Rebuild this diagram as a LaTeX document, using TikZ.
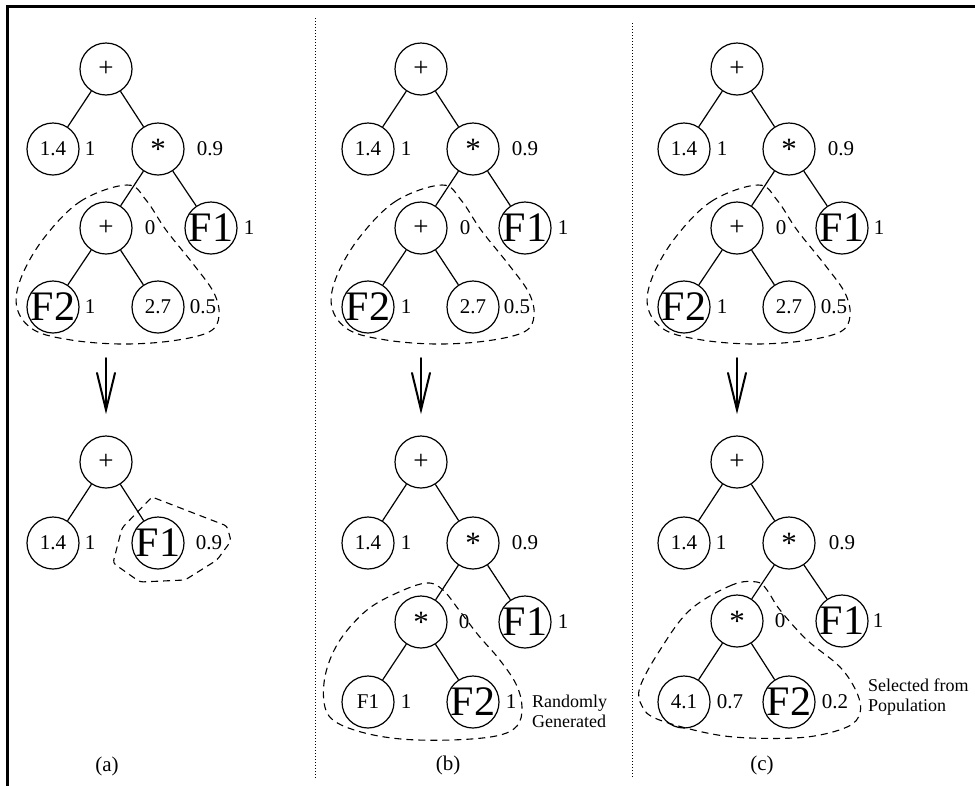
\documentclass[tikz,border=0pt]{standalone}
\usepackage{fontspec}
\setmainfont{Liberation Serif}
\newcommand{\mkzero}[1]{\makebox[0pt]{#1}}
\newcommand{\astk}{\mkzero{\fontsize{31}{33}\selectfont\raisebox{-0.17em}{*}}}
\newcommand{\plusk}{\mkzero{\fontsize{27}{30}\selectfont +}}
\begin{document}
\begin{tikzpicture}[x=1pt,y=-1pt,
  tn/.style={circle, draw, line width=1.2pt, minimum size=52pt, inner sep=0pt, font=\fontsize{21}{25}\selectfont},
  tnbig/.style={tn, font=\fontsize{42}{46}\selectfont},
  lab/.style={font=\fontsize{21}{25}\selectfont, inner sep=0pt},
  captxt/.style={font=\fontsize{21}{25}\selectfont, inner sep=0pt},
  edge/.style={line width=1.2pt},
  blob/.style={dash pattern=on 7pt off 5pt, line width=1.1pt},
  sepline/.style={dash pattern=on 1pt off 2pt, line width=1pt},
  note/.style={font=\fontsize{18}{20}\selectfont, align=left, anchor=west, inner sep=0pt},
  arr/.style={line width=2pt, line cap=round, line join=miter}
]
\useasboundingbox (0,0) rectangle (975,785);
% frame
\draw[line width=3pt] (7.5,786) -- (7.5,6) -- (976,6);
% separators
\coordinate (s1t) at (315,18); \coordinate (s1b) at (315,778);
\coordinate (s2t) at (632,23); \coordinate (s2b) at (632,778);
\draw[sepline] (s1t) -- (s1b);
\draw[sepline] (s2t) -- (s2b);

% ================= panel (a) =================
\node[tn] (ar) at (106,69) {\plusk};
\node[tn] (a1) at (53,149) {\mkzero{1.4}};
\node[tn] (a2) at (158,149) {\astk};
\node[tn] (a3) at (106,228) {\plusk};
\node[tnbig] (a4) at (211,228) {\mkzero{F1}};
\node[tnbig] (a5) at (53,307) {\mkzero{F2}};
\node[tn] (a6) at (158,307) {\mkzero{2.7}};
\draw[edge] (ar) -- (a1); \draw[edge] (ar) -- (a2);
\draw[edge] (a2) -- (a3); \draw[edge] (a2) -- (a4);
\draw[edge] (a3) -- (a5); \draw[edge] (a3) -- (a6);
\node[lab] (la1) at (90,149) {1};
\node[lab] (la2) at (210,149) {0.9};
\node[lab] (la3) at (150,228) {0};
\node[lab] (la4) at (249,228) {1};
\node[lab] (la5) at (90,307) {1};
\node[lab] (la6) at (203,307) {0.5};
\draw[blob, shift={(a3.center)}] plot[smooth cycle, tension=0.6] coordinates {(21,-43) (-25,-27) (-62,10) (-85,50) (-89,80) (-72,102) (-35,112) (15,116) (65,113) (103,104) (113,88) (108,65) (88,37) (60,2) (40,-28)};
% arrow
\coordinate (aat) at (106,358); \coordinate (aab) at (106,410);
\coordinate (aal) at (97,373); \coordinate (aar) at (115,373);
\draw[arr] (aat) -- (aab);
\draw[arr] (aal) -- (aab) -- (aar);
% lower tree
\node[tn] (br) at (106,462) {\plusk};
\node[tn] (b1) at (53,543) {\mkzero{1.4}};
\node[tnbig] (b2) at (158,543) {\mkzero{F1}};
\draw[edge] (br) -- (b1); \draw[edge] (br) -- (b2);
\node[lab] (lb1) at (90,543) {1};
\node[lab] (lb2) at (209,543) {0.9};
\draw[blob, rounded corners=3pt] (152,497) -- (227,526) -- (231,541) -- (217,560) -- (185,580) -- (140,582) -- (113,563) -- (122,528) -- cycle;
\node[captxt] (capa) at (107,766) {(a)};

% ================= panel (b) =================
\node[tn] (cr) at (421,69) {\plusk};
\node[tn] (c1) at (368,149) {\mkzero{1.4}};
\node[tn] (c2) at (473,149) {\astk};
\node[tn] (c3) at (421,228) {\plusk};
\node[tnbig] (c4) at (525,228) {\mkzero{F1}};
\node[tnbig] (c5) at (368,307) {\mkzero{F2}};
\node[tn] (c6) at (473,307) {\mkzero{2.7}};
\draw[edge] (cr) -- (c1); \draw[edge] (cr) -- (c2);
\draw[edge] (c2) -- (c3); \draw[edge] (c2) -- (c4);
\draw[edge] (c3) -- (c5); \draw[edge] (c3) -- (c6);
\node[lab] (lc1) at (406,149) {1};
\node[lab] (lc2) at (525,149) {0.9};
\node[lab] (lc3) at (465,228) {0};
\node[lab] (lc4) at (563,228) {1};
\node[lab] (lc5) at (406,307) {1};
\node[lab] (lc6) at (517,307) {0.5};
\draw[blob, shift={(c3.center)}] plot[smooth cycle, tension=0.6] coordinates {(21,-43) (-25,-27) (-62,10) (-85,50) (-89,80) (-72,102) (-35,112) (15,116) (65,113) (103,104) (113,88) (108,65) (88,37) (60,2) (40,-28)};
\coordinate (bat) at (421,358); \coordinate (bab) at (421,410);
\coordinate (bal) at (412,373); \coordinate (bar) at (430,373);
\draw[arr] (bat) -- (bab);
\draw[arr] (bal) -- (bab) -- (bar);
\node[tn] (dr) at (421,462) {\plusk};
\node[tn] (d1) at (368,543) {\mkzero{1.4}};
\node[tn] (d2) at (473,543) {\astk};
\node[tn] (d3) at (421,622) {\astk};
\node[tnbig] (d4) at (525,622) {\mkzero{F1}};
\node[tn] (d5) at (368,702) {\mkzero{F1}};
\node[tnbig] (d6) at (473,702) {\mkzero{F2}};
\draw[edge] (dr) -- (d1); \draw[edge] (dr) -- (d2);
\draw[edge] (d2) -- (d3); \draw[edge] (d2) -- (d4);
\draw[edge] (d3) -- (d5); \draw[edge] (d3) -- (d6);
\node[lab] (ld1) at (406,543) {1};
\node[lab] (ld2) at (525,543) {0.9};
\node[lab] (ld3) at (464,622) {0};
\node[lab] (ld4) at (563,622) {1};
\node[lab] (ld5) at (406,702) {1};
\node[lab] (ld6) at (511,702) {1};
\draw[blob, shift={(d3.center)}] plot[smooth cycle, tension=0.6] coordinates {(6,-39) (-22,-30) (-54,-12) (-81,18) (-95,50) (-97,80) (-88,98) (-60,110) (-20,117) (30,118) (75,114) (96,104) (101,85) (95,62) (78,37) (58,14) (38,-12) (22,-32)};
\node[note] (nb) at (532,711) {Randomly\\Generated};
\node[captxt] (capb) at (448,765) {(b)};

% ================= panel (c) =================
\node[tn] (er) at (737,69) {\plusk};
\node[tn] (e1) at (684,149) {\mkzero{1.4}};
\node[tn] (e2) at (789,149) {\astk};
\node[tn] (e3) at (737,228) {\plusk};
\node[tnbig] (e4) at (842,228) {\mkzero{F1}};
\node[tnbig] (e5) at (684,307) {\mkzero{F2}};
\node[tn] (e6) at (789,307) {\mkzero{2.7}};
\draw[edge] (er) -- (e1); \draw[edge] (er) -- (e2);
\draw[edge] (e2) -- (e3); \draw[edge] (e2) -- (e4);
\draw[edge] (e3) -- (e5); \draw[edge] (e3) -- (e6);
\node[lab] (le1) at (722,149) {1};
\node[lab] (le2) at (841,149) {0.9};
\node[lab] (le3) at (781,228) {0};
\node[lab] (le4) at (879,228) {1};
\node[lab] (le5) at (722,307) {1};
\node[lab] (le6) at (834,307) {0.5};
\draw[blob, shift={(e3.center)}] plot[smooth cycle, tension=0.6] coordinates {(21,-43) (-25,-27) (-62,10) (-85,50) (-89,80) (-72,102) (-35,112) (15,116) (65,113) (103,104) (113,88) (108,65) (88,37) (60,2) (40,-28)};
\coordinate (cat) at (737,358); \coordinate (cab) at (737,410);
\coordinate (cal) at (728,373); \coordinate (car) at (746,373);
\draw[arr] (cat) -- (cab);
\draw[arr] (cal) -- (cab) -- (car);
\node[tn] (fr) at (737,462) {\plusk};
\node[tn] (f1) at (684,543) {\mkzero{1.4}};
\node[tn] (f2) at (789,543) {\astk};
\node[tn] (f3) at (737,621) {\astk};
\node[tnbig] (f4) at (842,621) {\mkzero{F1}};
\node[tn] (f5) at (684,702) {\mkzero{4.1}};
\node[tnbig] (f6) at (789,702) {\mkzero{F2}};
\draw[edge] (fr) -- (f1); \draw[edge] (fr) -- (f2);
\draw[edge] (f2) -- (f3); \draw[edge] (f2) -- (f4);
\draw[edge] (f3) -- (f5); \draw[edge] (f3) -- (f6);
\node[lab] (lf1) at (721,543) {1};
\node[lab] (lf2) at (842,543) {0.9};
\node[lab] (lf3) at (780,621) {0};
\node[lab] (lf4) at (878,621) {1};
\node[lab] (lf5) at (730,702) {0.7};
\node[lab] (lf6) at (835,702) {0.2};
\draw[blob, shift={(f3.center)}] plot[smooth cycle, tension=0.6] coordinates {(20,-39) (-5,-36) (-47,-11) (-77,29) (-97,66) (-95,85) (-80,98) (-30,112) (13,117) (70,116) (110,106) (123,92) (120,72) (103,46) (70,19) (43,-11) (30,-31)};
\node[note] (nc) at (868,697) {Selected from\\Population};
\node[captxt] (capc) at (762,765) {(c)};
\end{tikzpicture}
\end{document}
